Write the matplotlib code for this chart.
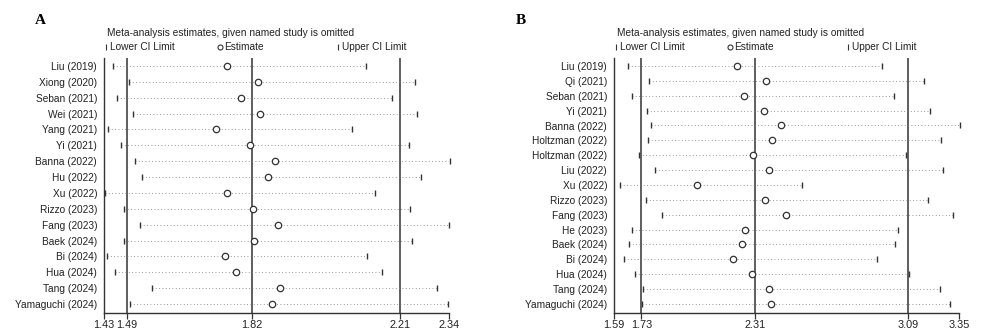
import matplotlib
matplotlib.use("Agg")
import matplotlib.pyplot as plt
from matplotlib.lines import Line2D

plt.rcParams['font.family'] = ['Liberation Sans', 'DejaVu Sans']

# panel A: leave-one-out estimates
studies_a = ["Liu (2019)", "Xiong (2020)", "Seban (2021)", "Wei (2021)", "Yang (2021)",
             "Yi (2021)", "Banna (2022)", "Hu (2022)", "Xu (2022)", "Rizzo (2023)",
             "Fang (2023)", "Baek (2024)", "Bi (2024)", "Hua (2024)", "Tang (2024)",
             "Yamaguchi (2024)"]
est_a = [1.754, 1.835, 1.790, 1.841, 1.726, 1.814, 1.881, 1.861, 1.754, 1.822,
         1.889, 1.824, 1.748, 1.778, 1.895, 1.872]
low_a = [1.453, 1.496, 1.463, 1.506, 1.440, 1.474, 1.512, 1.531, 1.433, 1.484,
         1.526, 1.482, 1.437, 1.460, 1.556, 1.499]
up_a = [2.120, 2.249, 2.190, 2.254, 2.084, 2.234, 2.342, 2.266, 2.145, 2.236,
        2.340, 2.242, 2.123, 2.162, 2.307, 2.337]
ticks_a = [1.43, 1.49, 1.82, 2.21, 2.34]

# panel B
studies_b = ["Liu (2019)", "Qi (2021)", "Seban (2021)", "Yi (2021)", "Banna (2022)",
             "Holtzman (2022)", "Holtzman (2022)", "Liu (2022)", "Xu (2022)", "Rizzo (2023)",
             "Fang (2023)", "He (2023)", "Baek (2024)", "Bi (2024)", "Hua (2024)",
             "Tang (2024)", "Yamaguchi (2024)"]
est_b = [2.217, 2.366, 2.253, 2.353, 2.443, 2.397, 2.298, 2.378, 2.011, 2.361,
         2.468, 2.258, 2.242, 2.195, 2.292, 2.378, 2.392]
low_b = [1.663, 1.770, 1.680, 1.760, 1.777, 1.765, 1.717, 1.800, 1.620, 1.751,
         1.836, 1.680, 1.665, 1.643, 1.695, 1.740, 1.733]
up_b = [2.954, 3.168, 3.019, 3.202, 3.354, 3.255, 3.080, 3.267, 2.547, 3.189,
        3.316, 3.039, 3.022, 2.929, 3.095, 3.250, 3.303]
ticks_b = [1.59, 1.73, 2.31, 3.09, 3.35]

W, H = 985, 329
fig = plt.figure(figsize=(W / 100, H / 100), dpi=100)
ink = '#333333'


def panel(x0, x1, studies, est, low, up, ticks, letter, lx):
    ax = fig.add_axes([x0 / W, 1 - 312.7 / H, (x1 - x0) / W, (312.7 - 58) / H])
    n = len(studies)
    ys = list(range(n))
    step = (304 - 66) / (n - 1)
    ax.set_ylim(n - 1 + 8.7 / step, -8 / step)
    ax.set_xlim(ticks[0], ticks[-1])
    for v in ticks[1:-1]:
        ax.axvline(v, color=ink, lw=1.1)
    for y, lo, hi in zip(ys, low, up):
        ax.plot([lo, hi], [y, y], ls=(0, (1, 3)), lw=0.6, color='#777777')
    ax.plot(low, ys, ls='none', marker='|', ms=5, mew=1.0, color=ink, clip_on=False)
    ax.plot(up, ys, ls='none', marker='|', ms=5, mew=1.0, color=ink, clip_on=False)
    ax.plot(est, ys, ls='none', marker='o', ms=4.6, mfc='white', mec=ink, mew=0.9,
            clip_on=False)
    ax.set_yticks(ys)
    ax.set_yticklabels(studies, fontsize=7.3, color='#222222')
    ax.tick_params(axis='y', length=0, pad=5)
    ax.set_xticks(ticks)
    ax.set_xticklabels([f"{t:.2f}" for t in ticks], fontsize=7.8, color='#222222')
    ax.tick_params(axis='x', length=4, width=0.9, color=ink, pad=1)
    for s in ['top', 'right']:
        ax.spines[s].set_visible(False)
    for s in ['left', 'bottom']:
        ax.spines[s].set_color(ink)
        ax.spines[s].set_linewidth(1.0)

    # header and legend
    fig.text((x0 + 3) / W, 1 - 33 / H, "Meta-analysis estimates, given named study is omitted",
             fontsize=7.3, va='center', ha='left', color='#222222')
    ly = 1 - 47 / H
    w = x1 - x0
    for px, txt, mk in [(x0 + 2, "Lower CI Limit", '|'),
                        (x0 + 0.336 * w, "Estimate", 'o'),
                        (x0 + 0.677 * w, "Upper CI Limit", '|')]:
        fig.add_artist(Line2D([px / W], [ly], marker=mk, ms=3.6 if mk == 'o' else 5,
                              mfc='white', mec=ink, mew=0.8, color=ink,
                              transform=fig.transFigure))
        fig.text((px + 4) / W, ly, txt, fontsize=7.3, va='center', ha='left',
                 color='#222222')
    fig.text(lx / W, 1 - 21 / H, letter, fontsize=11, fontweight='bold',
             family='Liberation Serif', va='center', ha='left')
    return ax


panel(104, 449.3, studies_a, est_a, low_a, up_a, ticks_a, "A", 35)
panel(614, 959.3, studies_b, est_b, low_b, up_b, ticks_b, "B", 516)

fig.savefig("out.png", dpi=100)
